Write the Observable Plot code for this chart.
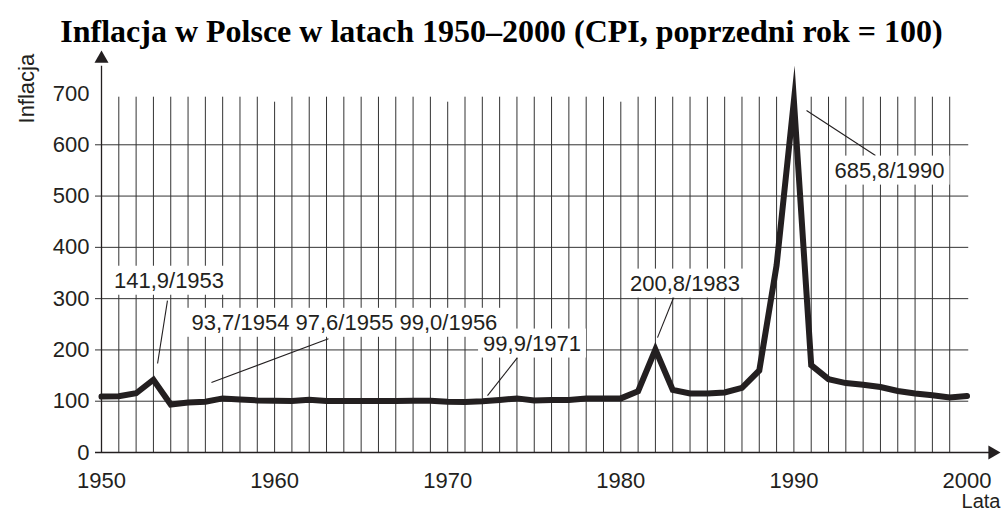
<!DOCTYPE html>
<html><head><meta charset="utf-8">
<script src="https://cdn.jsdelivr.net/npm/d3@7"></script>
<script src="https://cdn.jsdelivr.net/npm/@observablehq/plot@0.6"></script>
<style>
body{margin:0;background:#fff;width:1003px;height:513px;overflow:hidden}
#title{box-sizing:border-box;height:48px;padding-top:13px;line-height:30px;font:bold 32px "Liberation Serif","Times New Roman",serif;text-align:center;color:#000;white-space:nowrap}
#chart svg{display:block}
</style></head><body>
<div id="title">Inflacja w Polsce w latach 1950–2000 (CPI, poprzedni rok = 100)</div>
<div id="chart"></div>
<script>
const years = [1950,1951,1952,1953,1954,1955,1956,1957,1958,1959,
  1960,1961,1962,1963,1964,1965,1966,1967,1968,1969,
  1970,1971,1972,1973,1974,1975,1976,1977,1978,1979,
  1980,1981,1982,1983,1984,1985,1986,1987,1988,1989,
  1990,1991,1992,1993,1994,1995,1996,1997,1998,1999,2000];
const cpi = [109,109.7,115.5,141.9,93.7,97.6,99.0,105.5,103.5,101.5,
  101,100.5,103,100.5,100.5,100.5,100.5,100.5,101,101,
  99,98.5,99.9,102.5,105.5,101.5,102.5,102.5,105.5,105.5,
  105.5,119.5,200.8,122,115,115,117,126,160,365,
  685.8,170.3,143,135.3,132.2,127.8,119.9,114.9,111.8,107.3,110.1];
const yTicks = [0,100,200,300,400,500,600,700];
const yGrid = [100,200,300,400,500,600];
const xLabels = [1950,1960,1970,1980,1990,2000];
const decades = [1960,1970,1980,1990];
const annotText = ["141,9/1953","93,7/1954 97,6/1955 99,0/1956","99,9/1971","200,8/1983","685,8/1990"];
const annotX = [1953.9,1955.2,1974.87,1983.71,1995.52];
const annotY = [335,253,212.5,329.4,549.7];
const annotAnchor = ["middle","start","middle","middle","middle"];
const leaderX1 = [1953.81,1963.11,1974.03,1983.1,1990.73];
const leaderY1 = [296,222,185,306,666.7];
const leaderX2 = [1953.24,1956.35,1972.3,1982.12,1994.71];
const leaderY2 = [173.5,136.5,111,224,579];

const data = years.map((y,i)=>({year:y, value:cpi[i]}));
const gridYears = years.filter(y=>y>1950 && y<2000 && !decades.includes(y));
const annots = annotText.map((t,i)=>({t, x:annotX[i], y:annotY[i], a:annotAnchor[i]}));
const leaders = leaderX1.map((x,i)=>({x1:x, y1:leaderY1[i], x2:leaderX2[i], y2:leaderY2[i]}));

const ink = "#231f20", grid = "#333";
const font = "Liberation Sans, Arial, Helvetica, sans-serif";

const chart = Plot.plot({
  width: 1003, height: 465,
  marginLeft: 101, marginRight: 36.5, marginTop: 45, marginBottom: 61,
  x: {domain: [1950, 2000], axis: null},
  y: {domain: [0, 700], axis: null},
  style: {fontFamily: font, fontSize: "22px", color: ink, background: "white"},
  marks: [
    Plot.ruleX(gridYears, {x: d=>d, y1: 0, y2: 704.5, insetBottom: -6, stroke: grid, strokeWidth: 1}),
    Plot.ruleX(decades, {x: d=>d, y1: 0, y2: 704.5, insetBottom: -11, stroke: grid, strokeWidth: 1}),
    Plot.ruleY(yGrid, {y: d=>d, x1: 1950, x2: 2000.1, insetLeft: -6, stroke: grid, strokeWidth: 1}),
    Plot.ruleY([0], {y: d=>d, x1: 1950, x2: 2001.3, insetLeft: -6, stroke: ink, strokeWidth: 1.3}),
    Plot.ruleX([1950], {x: d=>d, y1: 0, y2: 765, insetBottom: -6, stroke: ink, strokeWidth: 1.3}),
    Plot.dot([0], {x: 1950, y: 768, symbol: "triangle", r: 5.2, fill: ink, stroke: null}),
    Plot.dot([0], {x: 2001.47, y: 0, symbol: "triangle", r: 5.2, rotate: 90, fill: ink, stroke: null}),
    Plot.text(yTicks, {x: 1950, y: d=>d, text: d=>String(d), dx: -12, textAnchor: "end", fill: ink, fontSize: 22}),
    Plot.text(xLabels, {x: d=>d, y: 0, text: d=>String(d), dy: 28, fill: ink, fontSize: 22}),
    Plot.text(["Lata"], {x: 2000, y: 0, text: d=>d, dx: 33.5, dy: 49.5, textAnchor: "end", fill: ink, fontSize: 20}),
    Plot.text(["Inflacja"], {x: 1950, y: 709.5, text: d=>d, dx: -74.5, rotate: -90, fill: ink, fontSize: 22}),
    Plot.link(leaders, {x1: "x1", y1: "y1", x2: "x2", y2: "y2", stroke: ink, strokeWidth: 1.1}),
    Plot.line(data, {x: "year", y: "value", stroke: ink, strokeWidth: 6, strokeLinejoin: "miter", strokeMiterlimit: 20}),
    Plot.text(annots.filter(d=>d.a==="middle"), {x: "x", y: "y", text: "t", textAnchor: "middle", fill: ink, fontSize: 22}),
    Plot.text(annots.filter(d=>d.a==="start"), {x: "x", y: "y", text: "t", textAnchor: "start", fill: ink, fontSize: 22})
  ]
});
document.getElementById("chart").append(chart);
chart.querySelectorAll("text").forEach(t => {
  if (!annotText.includes(t.textContent)) return;
  const b = t.getBBox();
  const r = document.createElementNS("http://www.w3.org/2000/svg", "rect");
  r.setAttribute("x", b.x - 5);
  r.setAttribute("y", b.y - 2);
  r.setAttribute("width", b.width + 10);
  r.setAttribute("height", b.height + 4);
  r.setAttribute("fill", "white");
  r.setAttribute("stroke", "none");
  if (t.getAttribute("transform")) r.setAttribute("transform", t.getAttribute("transform"));
  t.parentNode.insertBefore(r, t);
});
</script>
</body></html>
